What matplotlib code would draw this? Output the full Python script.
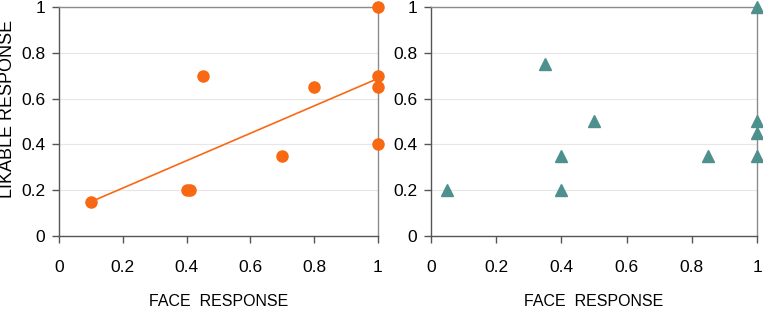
import numpy as np
import matplotlib.pyplot as plt

plt.rcParams['font.family'] = ['Liberation Sans', 'DejaVu Sans']

# left panel (circles + trend line)
face_left = [0.1, 0.4, 0.41, 0.45, 0.7, 0.8, 1.0, 1.0, 1.0, 1.0]
likable_left = [0.15, 0.2, 0.2, 0.7, 0.35, 0.65, 1.0, 0.7, 0.65, 0.4]

# right panel (triangles)
face_right = [0.05, 0.35, 0.4, 0.4, 0.5, 0.85, 1.0, 1.0, 1.0, 1.0]
likable_right = [0.2, 0.75, 0.35, 0.2, 0.5, 0.35, 1.0, 0.5, 0.45, 0.35]

ticks = [0, 0.2, 0.4, 0.6, 0.8, 1]
tick_labels = ['0', '0.2', '0.4', '0.6', '0.8', '1']

orange = '#F96812'
teal = '#4E908D'
spine_col = '#8C8C8C'

fig = plt.figure(figsize=(7.63, 3.10), dpi=100)
ax1 = fig.add_axes([59 / 763, 74 / 310, 319 / 763, 229 / 310])
ax2 = fig.add_axes([431 / 763, 74 / 310, 326 / 763, 229 / 310])


def style(ax):
    ax.set_xlim(0, 1)
    ax.set_ylim(0, 1)
    ax.set_xticks(ticks)
    ax.set_xticklabels(tick_labels)
    ax.set_yticks(ticks)
    ax.set_yticklabels(tick_labels)
    ax.yaxis.grid(True, color='#E6E6E6', lw=0.8)
    ax.set_axisbelow(True)
    for s in ax.spines.values():
        s.set_color(spine_col)
        s.set_linewidth(1.0)
    ax.spines['bottom'].set_color('#555555')
    ax.spines['left'].set_color('#555555')
    ax.tick_params(axis='both', colors='#555555', labelcolor='black',
                   labelsize=12.5, length=5, width=1, direction='out')
    ax.tick_params(axis='x', pad=12)
    ax.tick_params(axis='y', pad=5)
    ax.set_xlabel('FACE  RESPONSE', fontsize=11.5, labelpad=14)


style(ax1)
style(ax2)

ax1.plot(face_left, likable_left, 'o', color=orange, ms=8, clip_on=False, zorder=5)
slope, icpt = np.polyfit(face_left, likable_left, 1)
xs = np.array([min(face_left), max(face_left)])
ax1.plot(xs, slope * xs + icpt, color=orange, lw=1.2, zorder=4)
fig.text(8 / 763, 1 - 109 / 310, 'LIKABLE RESPONSE', rotation=90,
         ha='center', va='center', fontsize=13)

ax2.plot(face_right, likable_right, '^', color=teal, ms=8.5, clip_on=False, zorder=5)

fig.savefig('out.png', dpi=100)
